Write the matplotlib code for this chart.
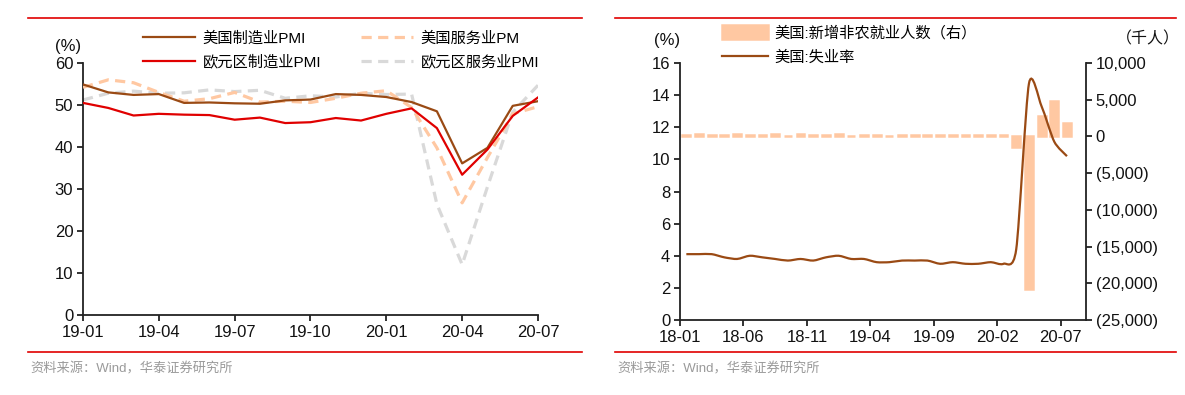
import numpy as np
import matplotlib
matplotlib.use('Agg')
from matplotlib import pyplot as plt
from matplotlib.path import Path
from matplotlib.patches import PathPatch
from matplotlib.lines import Line2D
from matplotlib.ticker import FuncFormatter

plt.rcParams['font.family'] = ['Liberation Sans', 'Noto Sans CJK SC', 'DejaVu Sans']

# left chart: PMI, 19-01 .. 20-07
pmi_months = ['19-01', '19-02', '19-03', '19-04', '19-05', '19-06', '19-07', '19-08', '19-09',
              '19-10', '19-11', '19-12', '20-01', '20-02', '20-03', '20-04', '20-05', '20-06', '20-07']
us_mfg = [54.9, 53.0, 52.4, 52.6, 50.5, 50.6, 50.4, 50.3, 51.1, 51.3, 52.6, 52.4, 51.9, 50.7, 48.5, 36.1, 39.8, 49.8, 50.9]
us_svc = [54.2, 56.0, 55.3, 53.0, 50.9, 51.5, 53.0, 50.7, 50.9, 50.6, 51.6, 52.8, 53.4, 49.4, 39.8, 26.7, 37.5, 47.9, 49.6]
ez_mfg = [50.5, 49.3, 47.5, 47.9, 47.7, 47.6, 46.5, 47.0, 45.7, 45.9, 46.9, 46.3, 47.9, 49.2, 44.5, 33.4, 39.4, 47.4, 51.8]
ez_svc = [51.2, 52.8, 53.3, 52.8, 52.9, 53.6, 53.2, 53.5, 51.6, 52.2, 51.9, 52.8, 52.5, 52.6, 26.4, 12.0, 30.5, 48.3, 54.7]
pmi_ticks = ['19-01', '19-04', '19-07', '19-10', '20-01', '20-04', '20-07']

# right chart: unemployment & nonfarm payrolls, 18-01 .. 20-07
job_months = [f'{y:02d}-{m:02d}' for y in (18, 19, 20) for m in range(1, 13)][:31]
unemp = [4.1, 4.1, 4.1, 3.9, 3.8, 4.0, 3.9, 3.8, 3.7, 3.8, 3.7, 3.9,
         4.0, 3.8, 3.8, 3.6, 3.6, 3.7, 3.7, 3.7, 3.5, 3.6, 3.5, 3.5,
         3.6, 3.5, 4.4, 14.7, 13.3, 11.1, 10.2]
nfp = [176, 324, 182, 196, 270, 235, 170, 282, 108, 277, 196, 227,
       312, 1, 147, 210, 85, 182, 194, 207, 208, 185, 261, 184,
       214, 251, -1373, -20787, 2725, 4781, 1763]
job_ticks = ['18-01', '18-06', '18-11', '19-04', '19-09', '20-02', '20-07']

BROWN = '#9A4A14'
PEACH = '#FFC8A2'
RED = '#E00000'
GRAY = '#D9D9D9'
DASH = (0, (3.2, 2.0))
W, H = 1185, 395


def smooth_path(x, y, k=8.0):
    # cardinal-spline style bezier through the points
    x = np.asarray(x, float)
    y = np.asarray(y, float)
    n = len(x)
    verts = [(x[0], y[0])]
    codes = [Path.MOVETO]
    for i in range(n - 1):
        a = max(i - 1, 0)
        b = min(i + 2, n - 1)
        verts.append((x[i] + (x[i + 1] - x[a]) / k, y[i] + (y[i + 1] - y[a]) / k))
        verts.append((x[i + 1] - (x[b] - x[i]) / k, y[i + 1] - (y[b] - y[i]) / k))
        verts.append((x[i + 1], y[i + 1]))
        codes += [Path.CURVE4] * 3
    return Path(verts, codes)


def style_axis(ax):
    for s in ['top', 'right']:
        ax.spines[s].set_visible(False)
    for s in ['left', 'bottom']:
        ax.spines[s].set_color('#222222')
        ax.spines[s].set_linewidth(1.3)
    ax.tick_params(direction='out', length=4, width=1.3, color='#222222',
                   labelsize=12, labelcolor='#111111', pad=3)


fig = plt.figure(figsize=(W / 100, H / 100), dpi=100)

# ---------------- left chart ----------------
ax = fig.add_axes([83 / W, 1 - 315 / H, 455 / W, 252 / H])
x = np.arange(len(pmi_months))
ax.plot(x, ez_svc, color=GRAY, lw=2.3, linestyle=DASH, zorder=2)
ax.plot(x, us_svc, color=PEACH, lw=2.3, linestyle=DASH, zorder=3)
ax.plot(x, us_mfg, color=BROWN, lw=1.6, zorder=4)
ax.plot(x, ez_mfg, color=RED, lw=1.6, zorder=5)
ax.set_xlim(0, len(pmi_months) - 1)
ax.set_ylim(0, 60)
ax.set_yticks(range(0, 61, 10))
ax.set_xticks([pmi_months.index(t) for t in pmi_ticks])
ax.set_xticklabels(pmi_ticks)
style_axis(ax)

h_left = [Line2D([], [], color=BROWN, lw=1.6),
          Line2D([], [], color=RED, lw=1.6),
          Line2D([], [], color=PEACH, lw=2.3, linestyle=DASH),
          Line2D([], [], color=GRAY, lw=2.3, linestyle=DASH)]
l_left = ['美国制造业PMI', '欧元区制造业PMI', '美国服务业PM', '欧元区服务业PMI']
fig.legend(h_left, l_left, ncol=2, loc='upper left', bbox_to_anchor=(143 / W, 1 - 31 / H),
           frameon=False, fontsize=11, handlelength=3.4, handletextpad=0.5,
           columnspacing=2.6, labelspacing=0.62, borderaxespad=0, borderpad=0)
fig.text(55 / W, 1 - 46 / H, '(%)', fontsize=12, va='center', ha='left', color='#111111')

# ---------------- right chart ----------------
axl = fig.add_axes([680 / W, 1 - 320 / H, 406 / W, 257 / H])
axr = axl.twinx()
xj = np.arange(len(job_months)) + 0.5
bars = axr.bar(xj, nfp, width=0.62, color=PEACH, edgecolor=PEACH, linewidth=1.8, zorder=2)
axl.add_patch(PathPatch(smooth_path(xj, unemp), fill=False, edgecolor=BROWN, lw=1.6, zorder=5))
axl.set_zorder(axr.get_zorder() + 1)
axl.patch.set_visible(False)
axl.set_xlim(0, 32)
axl.set_ylim(0, 16)
axl.set_yticks(range(0, 17, 2))
axr.set_ylim(-25000, 10000)
axr.set_yticks(range(-25000, 10001, 5000))
axr.yaxis.set_major_formatter(FuncFormatter(
    lambda v, p: f'({abs(v):,.0f})' if v < 0 else f'{v:,.0f}'))
axl.set_xticks([job_months.index(t) for t in job_ticks])
axl.set_xticklabels(job_ticks)
style_axis(axl)
for s in ['top', 'left', 'bottom']:
    axr.spines[s].set_visible(False)
axr.spines['right'].set_color('#222222')
axr.spines['right'].set_linewidth(1.3)
axr.tick_params(direction='out', length=4, width=1.3, color='#222222',
                labelsize=12, labelcolor='#111111', pad=3)

h_right = [bars, Line2D([], [], color=BROWN, lw=1.6)]
l_right = ['美国:新增非农就业人数（右）', '美国:失业率']
fig.legend(h_right, l_right, loc='upper left', bbox_to_anchor=(722 / W, 1 - 25 / H),
           frameon=False, fontsize=11, handlelength=3.0, handleheight=1.0, handletextpad=0.4,
           labelspacing=0.62, borderaxespad=0, borderpad=0)
fig.text(654 / W, 1 - 41 / H, '(%)', fontsize=12, va='center', ha='left', color='#111111')
fig.text(1116 / W, 1 - 39 / H, '（千人）', fontsize=11.5, va='center', ha='left', color='#111111')

# ---------------- frame lines & source ----------------
for x0, x1 in [(28, 582), (615, 1176)]:
    for yy in (18, 352):
        fig.add_artist(Line2D([x0 / W, x1 / W], [1 - yy / H, 1 - yy / H], color='#E00000', lw=1.2))
    fig.text((x0 + 2) / W, 1 - 369 / H, '资料来源：Wind，华泰证券研究所', fontsize=9.5,
             color='#9A9A9A', va='center', ha='left')

fig.savefig('out.png', dpi=100)
